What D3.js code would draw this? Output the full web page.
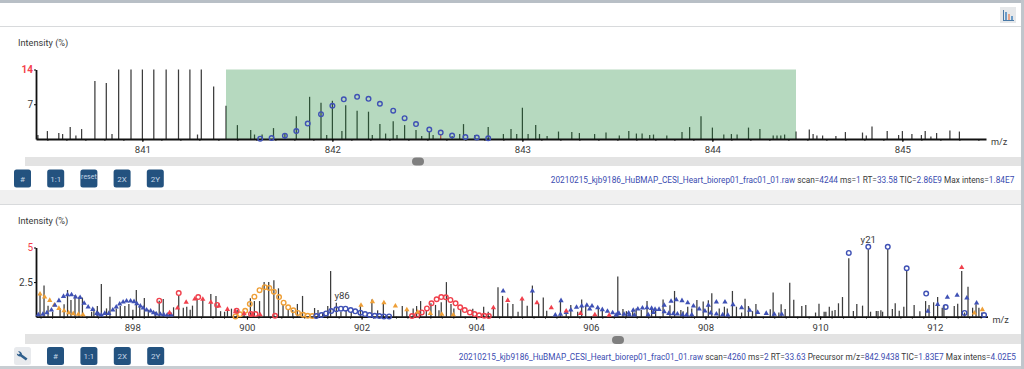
<!DOCTYPE html>
<html>
<head>
<meta charset="utf-8">
<script src="https://cdn.jsdelivr.net/npm/d3@7"></script>
<style>
    html, body { margin: 0; padding: 0; background: #fff; overflow: hidden; }
    text { font-family: Roboto, "Open Sans", sans-serif; }
</style>
</head>
<body>
<svg id="page" width="1024" height="369"></svg>
<script>
// MS1 spectrum: [m/z, intensity %]
const ms1Peaks = [[840.45,.8],[840.50,1.6],[840.56,1.2],[840.58,1.0],[840.62,2.4],[840.65,.7],[840.68,2.0],[840.75,11.7],[840.81,11.3],[840.84,1.0],[840.875,14],[840.94,14],[841.00,14],[841.06,14],[841.125,14],[841.19,14],[841.25,14],[841.29,.9],[841.31,14],[841.375,10.6],[841.44,6.7],[841.50,2.8],[841.57,1.8],[841.59,.9],[841.63,.9],[841.69,2.2],[841.75,1.0],[841.81,4.6],[841.88,8.5],[841.94,7.3],[841.97,.8],[842.00,7.7],[842.05,1.6],[842.07,6.8],[842.13,5.7],[842.19,5.5],[842.21,.8],[842.25,3.0],[842.28,1.1],[842.32,3.6],[842.34,.8],[842.38,2.8],[842.44,1.8],[842.47,.6],[842.51,1.5],[842.53,.8],[842.63,.6],[842.67,1.0],[842.69,3.0],[842.75,.8],[842.82,2.4],[842.90,1.0],[842.94,2.0],[842.97,1.0],[843.00,6.3],[843.03,1.0],[843.07,2.8],[843.09,1.0],[843.13,.6],[843.19,1.5],[843.26,1.4],[843.30,1.2],[843.38,1.0],[843.44,1.3],[843.51,.7],[843.56,1.6],[843.60,1.1],[843.63,1.1],[843.67,.8],[843.69,.9],[843.76,.7],[843.84,1.4],[843.88,2.4],[843.94,4.6],[844.00,2.3],[844.06,.9],[844.10,1.0],[844.13,.9],[844.19,2.3],[844.25,2.0],[844.32,.7],[844.34,.7],[844.36,.7],[844.38,.9],[844.44,1.5],[844.51,1.9],[844.53,1.0],[844.55,.7],[844.58,.7],[844.65,.6],[844.70,1.4],[844.79,1.3],[844.81,.7],[844.84,2.5],[844.92,1.6],[844.98,.8],[845.00,1.6],[845.05,1.0],[845.10,.8],[845.12,1.6],[845.15,.5],[845.18,1.2],[845.25,1.7],[845.30,1.5]];
const ms1RedPeaks = [[842.57,1.0]];
const ms1Envelope = [[841.62,.07],[841.68,.2],[841.75,.67],[841.81,1.6],[841.87,3.1],[841.94,5.0],[842.00,6.7],[842.06,8.0],[842.13,8.5],[842.19,8.1],[842.25,7.1],[842.32,5.7],[842.38,4.2],[842.44,3.0],[842.51,1.9],[842.57,1.3],[842.63,.7],[842.70,.4],[842.76,.3],[842.82,.15]];
const ms1Window = [841.44, 844.44];
const ms1Ticks = [841, 842, 843, 844, 845];
const ms1YTicks = [7, 14];

// MS2 spectrum
const ms2Peaks = [[896.39,1.57],[896.46,2.25],[896.53,.8],[896.61,.36],[896.74,.6],[896.81,.9],[896.87,1.93],[896.93,1.2],[897.00,1.57],[897.07,1.45],[897.13,1.38],[897.29,.36],[897.33,.6],[897.39,.77],[897.46,2.37],[897.55,.6],[897.61,1.45],[897.72,.6],[897.79,.77],[897.87,.77],[897.94,.92],[898.01,.5],[898.07,1.93],[898.13,.7],[898.21,1.35],[898.28,.5],[898.40,.36],[898.47,1.16],[898.54,1.28],[898.65,.36],[898.72,.68],[898.81,1.57],[898.89,.65],[898.95,.72],[899.01,.5],[899.05,.8],[899.13,1.3],[899.23,1.3],[899.37,1.64],[899.46,1.5],[899.54,.4],[899.61,.36],[899.66,.5],[899.73,.58],[899.83,.48],[899.95,.36],[900.06,1.33],[900.13,1.13],[900.22,1.13],[900.30,2.5],[900.38,2.5],[900.47,2.63],[900.55,2.05],[900.63,.85],[900.72,.53],[900.80,.48],[900.88,.92],[900.97,1.5],[901.18,.63],[901.24,.48],[901.32,.3],[901.41,.77],[901.46,3.3],[901.56,1.0],[901.64,.36],[901.73,.48],[901.82,.36],[901.98,.77],[902.18,1.25],[902.28,.46],[902.38,.97],[902.56,.46],[902.71,.77],[902.79,.53],[902.90,.6],[902.96,.77],[903.03,1.13],[903.13,.48],[903.21,.97],[903.29,.85],[903.35,.46],[903.39,1.04],[903.48,2.5],[903.56,.92],[903.61,.6],[903.73,.48],[903.94,.58],[904.13,.72],[904.21,.36],[904.30,.6],[904.38,2.13],[904.46,1.5],[904.55,.97],[904.64,.92],[904.73,.36],[904.80,1.2],[904.89,.8],[904.98,2.25],[905.09,.92],[905.17,1.38],[905.23,.43],[905.47,1.15],[905.57,.36],[905.65,.85],[905.77,.36],[905.84,1.25],[905.91,.77],[906.13,.6],[906.20,.43],[906.47,2.9],[906.56,.56],[906.62,.4],[906.73,.56],[906.79,.6],[906.88,.48],[906.98,1.13],[907.06,.53],[907.13,.6],[907.26,1.25],[907.38,.82],[907.46,1.86],[907.57,.48],[907.61,.4],[907.69,.72],[907.76,.6],[907.85,1.2],[907.96,1.09],[908.05,1.18],[908.11,1.69],[908.24,.6],[908.33,.72],[908.38,.6],[908.47,1.86],[908.54,.72],[908.63,.3],[908.69,1.3],[908.75,.77],[908.82,.4],[908.88,.92],[909.13,.53],[909.18,1.74],[909.28,.3],[909.32,.9],[909.39,.55],[909.47,2.46],[909.54,1.23],[909.68,.77],[909.75,.85],[909.92,.3],[909.98,.94],[910.07,.36],[910.10,.36],[910.16,.72],[910.21,.43],[910.26,.48],[910.32,.97],[910.39,1.42],[910.50,4.23],[910.58,.41],[910.64,.92],[910.74,.8],[910.84,4.88],[910.88,.36],[910.98,.41],[911.01,.41],[911.06,.46],[911.09,.36],[911.18,4.9],[911.26,.55],[911.31,.97],[911.38,.43],[911.46,.72],[911.51,3.3],[911.64,.85],[911.74,.39],[911.84,1.13],[911.90,.85],[911.98,1.04],[912.05,1.42],[912.13,.65],[912.16,.85],[912.34,.77],[912.40,.94],[912.47,3.3],[912.52,.3],[912.58,2.17],[912.66,.65],[912.72,.9],[912.77,.65],[912.82,.3]];
const orangeTriangles = [[896.39,1.64],[896.47,1.42],[896.56,1.18],[896.64,.85],[896.72,.6],[896.81,.43],[896.89,.29],[896.97,.22],[897.06,.17],[897.14,.14],[901.99,.82],[902.19,1.09],[902.39,1.01],[902.59,.77],[902.79,.5],[902.98,.34],[903.20,.24],[903.40,.17],[903.60,.14],[912.69,.27],[912.83,.51]];
const blueTriangles = [[896.36,.14],[896.44,.17],[896.51,.29],[896.59,.48],[896.65,.82],[896.72,1.16],[896.80,1.47],[896.87,1.59],[896.94,1.59],[897.01,1.42],[897.09,1.38],[897.16,.97],[897.23,.7],[897.31,.53],[897.38,.24],[897.41,.17],[897.46,.12],[897.52,.24],[897.59,.24],[897.66,.48],[897.72,.7],[897.78,.92],[897.84,1.06],[897.90,1.14],[897.97,1.14],[898.03,1.09],[898.08,.94],[898.14,.77],[898.19,.63],[898.25,.48],[898.32,.41],[898.37,.29],[898.42,.19],[898.49,.17],[898.55,.14],[898.61,.12],[898.68,.12],[904.47,1.86],[904.98,1.86],[905.48,1.16],[905.38,.12],[905.47,.17],[905.57,.31],[905.65,.48],[905.75,.68],[905.84,.77],[905.93,.82],[906.02,.77],[905.98,.56],[906.12,.65],[906.20,.51],[906.29,.39],[906.38,.29],[906.47,.22],[906.44,.12],[906.49,.24],[906.58,.17],[906.66,.27],[906.74,.46],[906.82,.56],[906.90,.63],[906.98,.65],[907.06,.6],[907.12,.53],[907.19,.53],[907.28,.36],[907.28,.82],[907.40,1.11],[907.49,1.23],[907.59,1.16],[907.69,1.01],[907.79,.77],[907.89,.56],[907.99,.41],[908.09,.27],[908.19,.19],[908.30,.14],[908.39,.12],[907.36,.24],[907.44,.22],[907.51,.19],[907.60,.14],[907.67,.12],[907.76,.14],[907.00,.14],[907.09,.31],[906.76,.12],[906.67,.14],[908.19,1.06],[908.34,1.06],[908.48,.87],[908.63,.65],[908.77,.46],[908.91,.31],[908.05,.82],[909.06,.24],[909.20,.17],[909.33,.17],[911.88,.39],[912.05,.89],[912.22,1.4],[912.39,1.55],[912.56,1.35],[912.73,.99]];
const redTriangles = [[898.65,.29],[898.79,.63],[898.94,1.04],[899.09,1.28],[899.23,1.26],[899.37,1.04],[899.51,.77],[899.66,.53],[899.80,.36],[899.95,.22],[900.09,.14],[900.23,.14],[904.30,.65],[904.55,1.18],[904.80,1.28],[905.06,1.01],[905.31,.65],[905.57,.41],[905.82,.24],[906.07,.14],[906.32,.1],[912.47,3.55]];
const redCircles = [[898.47,1.16],[898.81,1.71],[899.15,1.42],[899.48,.85],[899.82,.43],[900.07,.19],[900.15,.19],[900.49,.07],[902.88,.05],[902.97,.12],[903.05,.31],[903.14,.6],[903.22,.97],[903.31,1.26],[903.39,1.42],[903.47,1.4],[903.55,1.21],[903.64,.97],[903.72,.68],[903.80,.48],[903.89,.31],[903.97,.19],[904.05,.1],[904.14,.07],[904.22,.05]];
const orangeCircles = [[899.80,.02],[899.88,.17],[899.97,.43],[900.05,.92],[900.13,1.45],[900.22,1.92],[900.31,2.13],[900.39,2.08],[900.47,1.81],[900.56,1.42],[900.64,1.01],[900.72,.68],[900.81,.46],[900.89,.27],[900.98,.14],[901.06,.07],[901.14,.05]];
const blueCircles = [[901.21,.05],[901.30,.12],[901.38,.24],[901.47,.41],[901.56,.53],[901.64,.58],[901.72,.58],[901.81,.48],[901.89,.39],[901.98,.29],[902.06,.19],[902.14,.12],[902.23,.07],[902.31,.05],[902.39,.02],[902.48,.02],[910.50,4.61],[910.84,5.05],[911.18,5.05],[911.51,3.5],[911.85,1.67],[912.19,.7],[912.52,.27],[912.86,.12]];
const ms2Labels = [{ label: 'y86', mz: 901.66, y: 1.0 }, { label: 'y21', mz: 910.84, y: 5.05 }];
const ms2Ticks = [898, 900, 902, 904, 906, 908, 910, 912];
const ms2YTicks = [2.5, 5];

const statusTop = [['20210215_kjb9186_HuBMAP_CESI_Heart_biorep01_frac01_01.raw', 1], [' scan=', 0], ['4244', 1], [' ms=', 0], ['1', 1], [' RT=', 0], ['33.58', 1], [' TIC=', 0], ['2.86E9', 1], [' Max intens=', 0], ['1.84E7', 1]];
const statusBottom = [['20210215_kjb9186_HuBMAP_CESI_Heart_biorep01_frac01_01.raw', 1], [' scan=', 0], ['4260', 1], [' ms=', 0], ['2', 1], [' RT=', 0], ['33.63', 1], [' Precursor m/z=', 0], ['842.9438', 1], [' TIC=', 0], ['1.83E7', 1], [' Max intens=', 0], ['4.02E5', 1]];

const BLUE = '#3f51b5', RED = '#f0404c', ORANGE = '#ee9f37', PEAK = '#3c3c3c', INK = '#3a3a3a';
const svg = d3.select('#page');

function band(x, y, w, h, fill) {
    svg.append('rect').attr('x', x).attr('y', y).attr('width', w).attr('height', h).attr('fill', fill);
}

function drawPanel(p) {
    const x = d3.scaleLinear().domain(p.xDomain).range([36, p.xEnd]);
    const y = d3.scaleLinear().domain([0, p.yMax]).range([p.baseline, p.top]);
    const g = svg.append('g');

    // peaks
    g.selectAll('.peak').data(p.peaks).enter().append('line')
        .attr('x1', d => x(d[0])).attr('x2', d => x(d[0]))
        .attr('y1', y(0)).attr('y2', d => y(d[1]))
        .attr('stroke', PEAK).attr('stroke-width', 1.25);
    if (p.redPeaks) {
        g.selectAll('.redpeak').data(p.redPeaks).enter().append('line')
            .attr('x1', d => x(d[0])).attr('x2', d => x(d[0]))
            .attr('y1', y(0)).attr('y2', d => y(d[1]))
            .attr('stroke', RED).attr('stroke-width', 1.25);
    }

    // isolation window sits over the peaks
    if (p.window) {
        g.append('rect')
            .attr('x', x(p.window[0])).attr('y', p.top)
            .attr('width', x(p.window[1]) - x(p.window[0]))
            .attr('height', p.baseline - p.top)
            .attr('fill', 'rgb(12,128,42)').attr('opacity', .3);
    }

    // axes
    const minor = d3.range(Math.ceil(p.xDomain[0] / p.minorStep), Math.floor(p.xDomain[1] / p.minorStep) + 1)
        .map(i => i * p.minorStep);
    g.append('g').attr('transform', 'translate(0,' + p.baseline + ')')
        .call(d3.axisBottom(x).tickValues(minor).tickSize(2).tickFormat(''))
        .call(a => a.select('.domain').remove())
        .call(a => a.selectAll('line').attr('stroke', '#333'));
    g.append('g').attr('transform', 'translate(0,' + p.baseline + ')')
        .call(d3.axisBottom(x).tickValues(p.xTicks).tickSize(3).tickPadding(4).tickSizeOuter(0).tickFormat(d3.format('d')))
        .call(a => a.select('.domain').attr('stroke', '#111').attr('stroke-width', 1.8))
        .call(a => a.selectAll('text').attr('font-size', 9.6).attr('fill', INK));
    g.append('g').attr('transform', 'translate(36,0)')
        .call(d3.axisLeft(y).tickValues(p.yTicks).tickSize(2).tickPadding(1).tickSizeOuter(0).tickFormat(d => d))
        .call(a => a.select('.domain').attr('stroke', '#111').attr('stroke-width', 1.8))
        .call(a => a.selectAll('text').attr('font-size', 10)
            .attr('font-weight', d => d === p.yMax && d === 14 ? 700 : 400)
            .attr('fill', d => d === p.yMax ? '#f5404c' : INK));

    g.append('text').attr('x', 18).attr('y', p.top - 24).attr('font-size', 9.2).attr('fill', INK).text('Intensity (%)');
    g.append('text').attr('x', p.xEnd + 5).attr('y', p.baseline + 6).attr('font-size', 9.2).attr('fill', INK).text('m/z');

    // matched ions
    (p.circles || []).forEach(s => {
        g.selectAll('.c').data(s.data).enter().append('circle')
            .attr('cx', d => x(d[0])).attr('cy', d => y(d[1])).attr('r', 2.3)
            .attr('fill', 'none').attr('stroke', s.color).attr('stroke-width', 1.4);
    });
    (p.triangles || []).forEach(s => {
        g.selectAll('.t').data(s.data).enter().append('path')
            .attr('d', d3.symbol().type(d3.symbolTriangle).size(12))
            .attr('transform', d => 'translate(' + x(d[0]) + ',' + y(d[1]) + ')')
            .attr('fill', s.color);
    });
    (p.labels || []).forEach(l => {
        g.append('text').attr('x', x(l.mz)).attr('y', y(l.y) - 4)
            .attr('text-anchor', 'middle').attr('font-size', 9.6).attr('fill', INK).text(l.label);
    });
}

function drawButton(bx, by, label) {
    svg.append('rect').attr('x', bx).attr('y', by).attr('width', 17).attr('height', 18).attr('rx', 2.5)
        .attr('fill', '#23527f');
    svg.append('text').attr('x', bx + 8.5).attr('y', by + (label === 'reset' ? 9 : 12)).attr('text-anchor', 'middle')
        .attr('font-size', label === 'reset' ? 7 : 8).attr('fill', '#c3d5e6').text(label);
}

// Reference font is narrower than Roboto, so squeeze the line horizontally
function drawStatus(parts, right, yPos) {
    const t = svg.append('text').attr('transform', 'translate(' + right + ',' + yPos + ') scale(.889,1)')
        .attr('text-anchor', 'end').attr('font-size', 9.3).attr('xml:space', 'preserve');
    parts.forEach(s => {
        t.append('tspan').attr('fill', s[1] ? '#3a4bb0' : INK).text(s[0]);
    });
}

window.addEventListener('load', function () {
    // page chrome
    band(0, 0, 1024, 3, '#b8bfc6');
    band(0, 26, 1024, 1, '#d8dadc');
    band(0, 190, 1024, 15, '#f0f0f0');
    band(0, 204, 1024, 1, '#d8dadc');
    band(0, 366, 1024, 3, '#c8cdd2');
    band(1021, 0, 3, 369, '#c0c6cc');

    // scroll bars
    band(25, 157, 996, 9, '#e3e3e3');
    band(25, 334, 996, 10, '#e3e3e3');
    svg.append('rect').attr('x', 412).attr('y', 157.5).attr('width', 12).attr('height', 8).attr('rx', 4).attr('fill', '#7f7f7f');
    svg.append('rect').attr('x', 612).attr('y', 336).attr('width', 12).attr('height', 8).attr('rx', 4).attr('fill', '#7f7f7f');

    // chart icon, top right
    band(1000, 7, 16, 16, '#e6e8ea');
    band(1003, 10, 1, 11, '#4a7aa8');
    band(1003, 20, 11, 1, '#4a7aa8');
    band(1005, 12, 2, 8, '#6c9cc8');
    band(1008, 14, 2, 6, '#e8a58a');
    band(1011, 16, 2, 4, '#6c9cc8');

    drawPanel({
        xDomain: [840.44, 845.44], xEnd: 986, yMax: 14, top: 69.5, baseline: 139,
        xTicks: ms1Ticks, yTicks: ms1YTicks, minorStep: .1,
        peaks: ms1Peaks, redPeaks: ms1RedPeaks, window: ms1Window,
        circles: [{ data: ms1Envelope, color: BLUE }]
    });
    drawPanel({
        xDomain: [896.32, 912.92], xEnd: 987.5, yMax: 5, top: 247.5, baseline: 316.7,
        xTicks: ms2Ticks, yTicks: ms2YTicks, minorStep: .2,
        peaks: ms2Peaks,
        circles: [{ data: orangeCircles, color: ORANGE }, { data: redCircles, color: RED }, { data: blueCircles, color: BLUE }],
        triangles: [{ data: orangeTriangles, color: ORANGE }, { data: blueTriangles, color: BLUE }, { data: redTriangles, color: RED }],
        labels: ms2Labels
    });

    ['#', '1:1', 'reset', '2X', '2Y'].forEach((b, i) => drawButton(14 + i * 33.2, 169.5, b));
    ['#', '1:1', '2X', '2Y'].forEach((b, i) => drawButton(47 + i * 33.4, 347, b));

    // wrench button
    svg.append('rect').attr('x', 14).attr('y', 347).attr('width', 17).attr('height', 18).attr('rx', 2.5).attr('fill', '#e8eaed');
    svg.append('path')
        .attr('d', 'M18 351.5 a3 3 0 0 1 4 3 l5.5 4 -1.6 2 -5.5 -4 a3 3 0 0 1 -3.6 -3 l2 1 1.2 -1.3 z')
        .attr('fill', '#2f5f8d');

    drawStatus(statusTop, 1014.3, 183);
    drawStatus(statusBottom, 1016, 360);
});
</script>
</body>
</html>
